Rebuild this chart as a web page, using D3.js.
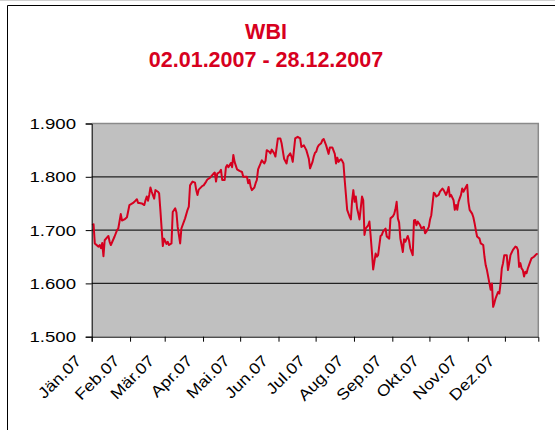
<!DOCTYPE html>
<html lang="de">
    <head>
        <meta charset="utf-8">
        <title>WBI 2007</title>
        <script type="text/javascript" src="https://d3js.org/d3.v7.min.js"></script>
        <style type="text/css">
            body {
                margin: 0;
                background-color: #ffffff;
            }
            svg {
                display: block;
            }
            /* red chart title */
            .title {
                font-family: "Liberation Sans", Arial, Helvetica, sans-serif;
                font-weight: bold;
                font-size: 21.5px;
                fill: #d7001e;
            }
            .axis text {
                font-family: "Liberation Sans", Arial, Helvetica, sans-serif;
                font-size: 15.5px;
                fill: #000000;
            }
        </style>
    </head>
    <body>
        <svg width="555" height="430"></svg>
        <script type="text/javascript">

            // WBI closing values 2007 (dd.mm of 2007)
            const dates = [
                "02.01","03.01","04.01","07.01","08.01","09.01","10.01","11.01","12.01","15.01","16.01","17.01","20.01","22.01","23.01","25.01","26.01","28.01","30.01",
                "01.02","04.02","05.02","07.02","08.02","09.02","11.02","13.02","14.02","15.02","16.02","17.02","18.02","19.02","21.02","22.02","24.02","25.02","26.02","28.02",
                "01.03","03.03","04.03","05.03","07.03","08.03","10.03","11.03","12.03","14.03","15.03","18.03","20.03","21.03","22.03","24.03","26.03","27.03","28.03","29.03",
                "01.04","02.04","04.04","05.04","07.04","10.04","11.04","12.04","13.04","15.04","16.04","17.04","19.04","20.04","21.04","22.04","24.04","25.04","26.04","27.04","29.04",
                "01.05","03.05","04.05","07.05","08.05","09.05","10.05","11.05","13.05","14.05","15.05","16.05","18.05","19.05","21.05","22.05","23.05","25.05","26.05","27.05","29.05","30.05",
                "01.06","03.06","04.06","06.06","08.06","09.06","11.06","12.06","13.06","15.06","17.06","19.06","20.06","22.06","24.06","26.06","27.06","29.06","30.06",
                "01.07","02.07","03.07","04.07","06.07","07.07","08.07","10.07","12.07","13.07","15.07","17.07","18.07","19.07","20.07","21.07","22.07","23.07","24.07","25.07","26.07","27.07","29.07","30.07","31.07",
                "01.08","02.08","03.08","04.08","05.08","06.08","08.08","09.08","10.08","11.08","12.08","13.08","14.08","15.08","16.08","17.08","18.08","19.08","20.08","21.08","23.08","24.08","25.08","27.08","28.08","30.08","31.08",
                "02.09","03.09","04.09","05.09","06.09","07.09","08.09","09.09","10.09","11.09","12.09","14.09","15.09","16.09","18.09","19.09","20.09","21.09","22.09","24.09","25.09","27.09","28.09","29.09",
                "01.10","02.10","03.10","05.10","06.10","07.10","09.10","10.10","12.10","13.10","15.10","16.10","17.10","18.10","19.10","21.10","22.10","23.10","24.10","25.10","27.10","28.10","29.10","31.10",
                "01.11","02.11","03.11","05.11","06.11","07.11","08.11","09.11","11.11","12.11","14.11","15.11","16.11","17.11","19.11","20.11","21.11","22.11","23.11","24.11","26.11","27.11","28.11","29.11","30.11",
                "01.12","02.12","03.12","04.12","05.12","06.12","08.12","10.12","11.12","12.12","13.12","14.12","15.12","16.12","17.12","18.12","19.12","20.12","22.12","23.12","25.12","27.12","28.12"
            ];
            const values = [
                1709,1711,1675,1669,1672,1666,1676,1651,1681,1689,1678,1672,1688,1700,1703,1730,1718,1720,1724,
                1747,1751,1753,1758,1751,1751,1750,1747,1756,1763,1755,1766,1780,1772,1759,1775,1772,1769,1738,1670,
                1684,1674,1678,1672,1675,1734,1741,1733,1706,1675,1703,1722,1738,1744,1784,1791,1789,1775,1766,1776,
                1783,1784,1791,1795,1798,1806,1808,1791,1806,1809,1813,1794,1794,1818,1822,1818,1826,1818,1841,1828,1814,
                1811,1809,1800,1800,1788,1794,1781,1775,1780,1788,1794,1814,1825,1831,1825,1830,1850,1847,1844,1851,1844,1838,
                1872,1872,1863,1834,1825,1838,1844,1838,1828,1872,1875,1872,1856,1859,1850,1834,1816,1828,1838,
                1845,1847,1855,1859,1863,1869,1871,1859,1843,1855,1855,1843,1825,1836,1828,1831,1833,1830,1825,1794,1766,1738,1725,1720,1756,
                1775,1753,1763,1741,1731,1720,1763,1756,1691,1703,1706,1709,1716,1689,1659,1626,1641,1656,1650,1653,1689,1691,1697,1703,1688,1684,1722,
                1726,1730,1739,1753,1722,1714,1684,1672,1659,1683,1678,1689,1681,1666,1653,1718,1719,1709,1716,1709,1703,1706,1694,1697,
                1706,1720,1728,1770,1768,1763,1766,1772,1778,1775,1766,1772,1781,1763,1766,1756,1738,1747,1738,1753,1766,1778,1772,1781,
                1785,1753,1738,1731,1724,1713,1700,1688,1684,1675,1672,1650,1634,1625,1600,1588,1600,1556,1563,1572,1584,1581,1600,1628,1638,
                1653,1653,1653,1625,1638,1653,1663,1669,1668,1663,1631,1638,1628,1625,1613,1622,1619,1628,1641,1647,1650,1655,1655
            ];

            // axis labels
            const monthLabels = ["Jän.07","Feb.07","Mär.07","Apr.07","Mai.07","Jun.07","Jul.07","Aug.07","Sep.07","Okt.07","Nov.07","Dez.07"];
            const yTicks = [1500, 1600, 1700, 1800, 1900];
            const titleLines = ["WBI", "02.01.2007 - 28.12.2007"];

            const svg = d3.select("svg");

            // plot area
            const plotLeft = 91.7, plotRight = 538.3, plotTop = 123.5, plotBottom = 336.7;

            const parseDay = d3.timeParse("%d.%m.%Y");
            const data = dates.map((d, i) => ({ date: parseDay(d + ".2007"), value: values[i] }));

            // german number format -> 1.900
            const de = d3.formatLocale({ decimal: ",", thousands: ".", grouping: [3], currency: ["", " €"] });

            // date axis, one slot per calendar day
            const x = d3.scaleTime()
                .domain([new Date(2007, 0, 2), new Date(2007, 11, 29)])
                .range([plotLeft, plotRight]);

            const y = d3.scaleLinear()
                .domain([1500, 1900])
                .range([plotBottom, plotTop]);

            // outer frame of the chart
            svg.append("line").attr("x1", 0).attr("x2", 555).attr("y1", 0.5).attr("y2", 0.5)
                .attr("stroke", "#d0d0d0");
            svg.append("path")
                .attr("d", "M7.5,430V5.5H555")
                .attr("fill", "none")
                .attr("stroke", "#000");

            // title
            svg.selectAll("text.title")
                .data(titleLines)
                .enter()
                .append("text")
                .attr("class", "title")
                .attr("x", 266)
                .attr("y", (d, i) => 38.5 + i * 28.3)
                .attr("text-anchor", "middle")
                .text(d => d);

            // grey plot background
            svg.append("rect")
                .attr("x", plotLeft)
                .attr("y", plotTop)
                .attr("width", plotRight - plotLeft)
                .attr("height", plotBottom - plotTop)
                .attr("fill", "#c0c0c0");

            // gridlines
            svg.selectAll("line.grid")
                .data(yTicks.slice(1, -1))
                .enter()
                .append("line")
                .attr("class", "grid")
                .attr("x1", plotLeft)
                .attr("x2", plotRight)
                .attr("y1", d => y(d))
                .attr("y2", d => y(d))
                .attr("stroke", "#222")
                .attr("stroke-width", 1.3);

            // top + right border of the plot area
            svg.append("path")
                .attr("d", "M" + plotLeft + "," + plotTop + "H" + plotRight + "V" + plotBottom)
                .attr("fill", "none")
                .attr("stroke", "#8a8a8a")
                .attr("stroke-width", 1.5);

            // line
            const line = d3.line()
                .x(d => x(d3.timeHour.offset(d.date, 12)))
                .y(d => y(d.value));

            svg.append("path")
                .datum(data)
                .attr("d", line)
                .attr("fill", "none")
                .attr("stroke", "#d5001f")
                .attr("stroke-width", 2)
                .attr("stroke-linejoin", "round");

            // y axis
            const yAxis = svg.append("g")
                .attr("class", "axis")
                .attr("transform", "translate(" + plotLeft + ",0)")
                .call(d3.axisLeft(y).tickValues(yTicks).tickFormat(de.format(",.0f")).tickSize(6).tickPadding(9.7));
            yAxis.select(".domain").attr("stroke", "#000");
            yAxis.selectAll("text")
                .attr("textLength", function () { return this.getComputedTextLength() * 1.2; })
                .attr("lengthAdjust", "spacingAndGlyphs");

            // x axis, ticks at start of each month
            const monthTicks = monthLabels.map((m, i) => new Date(2007, i, 2));
            const xAxis = svg.append("g")
                .attr("class", "axis")
                .attr("transform", "translate(0," + plotBottom + ")")
                .call(d3.axisBottom(x).tickValues(monthTicks).tickFormat((d, i) => monthLabels[i]).tickSizeOuter(0).tickSize(5));
            xAxis.select(".domain").attr("stroke", "#000");
            xAxis.selectAll("text")
                .attr("x", 0)
                .attr("y", 0)
                .attr("dy", 0)
                .attr("text-anchor", "end")
                .attr("transform", "translate(-10,25) rotate(-45)")
                .attr("textLength", function () { return this.getComputedTextLength() * 1.15; })
                .attr("lengthAdjust", "spacingAndGlyphs");

        </script>
    </body>
</html>
